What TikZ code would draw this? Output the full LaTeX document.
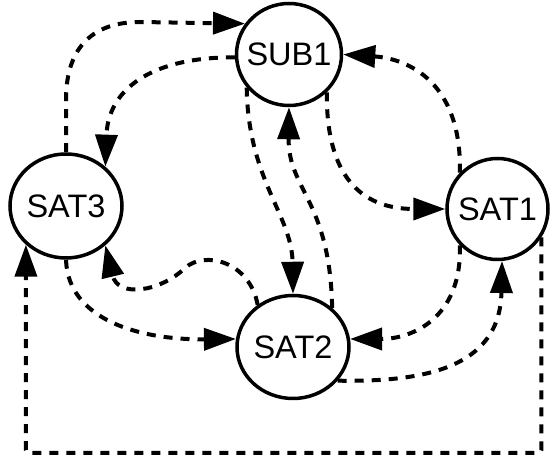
\documentclass[tikz,border=0pt]{standalone}
\usepackage{fontspec}
\setmainfont{Liberation Sans}
\usetikzlibrary{shapes.geometric,arrows.meta}
\begin{document}
\begin{tikzpicture}[x=1pt,y=-1pt,
  state/.style={draw, ellipse, line width=3.5pt, inner sep=0pt},
  txt/.style={font=\fontsize{32.5}{39}\selectfont, inner sep=0pt},
  flow/.style={line width=4pt, dash pattern=on 9pt off 8pt,
    -{Triangle[length=32pt,width=22pt]}}]
\useasboundingbox (0,0) rectangle (550,462);

% states
\node[state, minimum width=105pt, minimum height=102pt, label={[txt]center:SUB1}] (sub1) at (289,54.5) {};
\node[state, minimum width=112pt, minimum height=104pt, label={[txt]center:SAT3}] (sat3) at (66,206) {};
\node[state, minimum width=101pt, minimum height=101pt, label={[txt]center:SAT1}] (sat1) at (497.5,209) {};
\node[state, minimum width=112pt, minimum height=103pt, label={[txt]center:SAT2}] (sat2) at (293,347) {};

% transitions
\draw[flow] (sat3.north) -- (66,100) .. controls (66,45) and (95,22) .. (140,22) -- (sub1.145);
\draw[flow] (sub1.183) .. controls (150,57) and (108,90) .. (sat3.45);
\draw[flow] (sub1.218) .. controls (248,180) and (292,215) .. (sat2.north);
\draw[flow] (sat2.45) .. controls (330,200) and (288,190) .. (sub1.south);
\draw[flow] (sub1.-45) .. controls (326,175) and (360,209) .. (sat1.west);
\draw[flow] (sat1.136) .. controls (462,75) and (400,58) .. (sub1.east);
\draw[flow] (sat1.224) .. controls (462,320) and (410,339) .. (sat2.8);
\draw[flow] (sat2.-37) .. controls (420,382) and (500,370) .. (sat1.-85);
\coordinate (base) at (0,453);
\draw[flow, rounded corners=3pt] (sat1.-33) -- (sat1.-33 |- base) -- (sat3.224 |- base) -- (sat3.224);
\draw[flow] (sat2.130) .. controls (250,262) and (205,250) .. (185,268)
  .. controls (160,292) and (118,298) .. (sat3.-45);
\draw[flow] (sat3.south) .. controls (68,320) and (140,340) .. (sat2.172);
\end{tikzpicture}
\end{document}
